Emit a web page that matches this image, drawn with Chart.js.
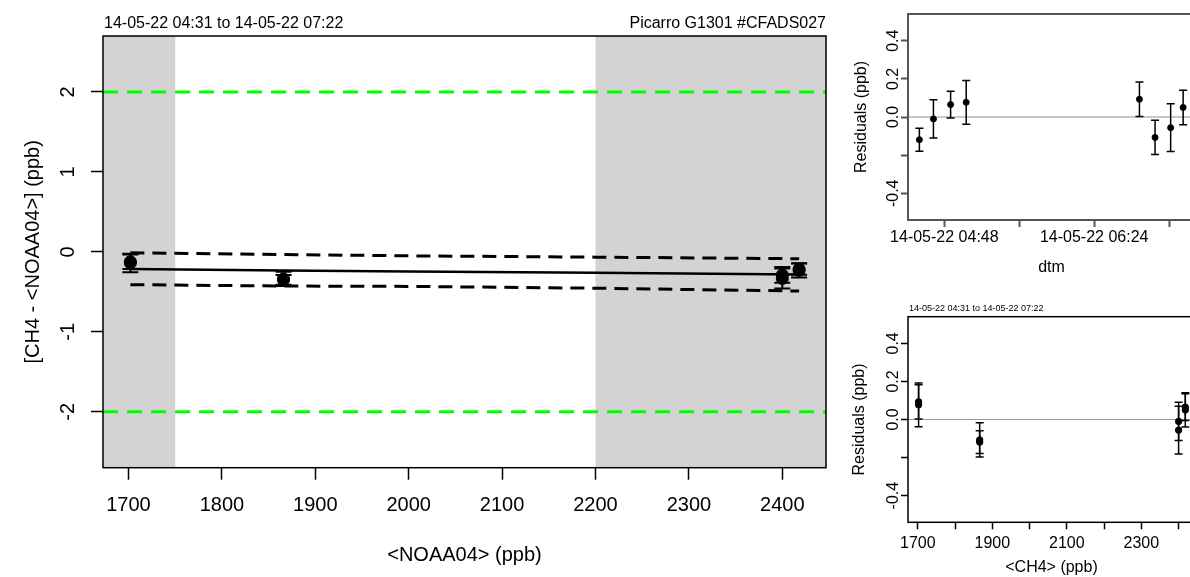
<!DOCTYPE html>
<html>
<head>
<meta charset="utf-8">
<title>CH4 calibration check</title>
<script src="https://cdn.jsdelivr.net/npm/chart.js@4.4.1/dist/chart.umd.min.js"></script>
<style>
  html, body { margin: 0; padding: 0; background: #fff; }
  body { position: relative; width: 1190px; height: 577px; overflow: hidden; }
  canvas { position: absolute; }
  #mainChart { left: 0; top: 0; }
  #timeChart { left: 840px; top: 0; }
  #ch4Chart { left: 840px; top: 290px; }
</style>
</head>
<body>
<canvas id="mainChart" width="840" height="577"></canvas>
<canvas id="timeChart" width="360" height="290"></canvas>
<canvas id="ch4Chart" width="360" height="287"></canvas>
<script>
// one entry per injection
const noaaValues = [1866, 2400, 2418, 1702, 1702, 1866, 2400, 2418];
const diffValues = [-0.350, -0.288, -0.215, -0.139, -0.123, -0.338, -0.334, -0.232];
const diffErrors = [0.06, 0.10, 0.07, 0.115, 0.09, 0.09, 0.125, 0.09];

// fitted line and its band
const fitNoaa = [1702, 1866, 2000, 2200, 2418];
const fitValues = [-0.215, -0.232, -0.245, -0.262, -0.282];
const bandUpper = [-0.012, -0.033, -0.050, -0.066, -0.086];
const bandLower = [-0.410, -0.428, -0.432, -0.455, -0.490];
const limitValues = [2, -2];
const shadedNoaa = [[1672.7, 1750], [2200, 2446.8]];

// residual panels
const injectionTimes = ['04:32', '04:41', '04:52', '05:02', '06:53', '07:03', '07:13', '07:21'];
const residuals = [-0.119, -0.010, 0.065, 0.077, 0.093, -0.107, -0.056, 0.050];
const residualErrors = [0.06, 0.10, 0.07, 0.115, 0.09, 0.09, 0.125, 0.09];
const ch4Values = [1866, 2400, 2418, 1702, 1702, 1866, 2400, 2418];

// ticks
const noaaTicks = [1700, 1800, 1900, 2000, 2100, 2200, 2300, 2400];
const diffTicks = [-2, -1, 0, 1, 2];
const residualTicks = [-0.4, -0.2, 0, 0.2, 0.4];
const residualTickLabels = ['-0.4', '', '0.0', '0.2', '0.4'];
const timeTicks = ['04:48', '05:36', '06:24', '07:12'];
const timeTickLabels = ['14-05-22 04:48', '', '14-05-22 06:24', ''];
const ch4Ticks = [1700, 1800, 1900, 2000, 2100, 2200, 2300, 2400];
const ch4TickLabels = ['1700', '', '1900', '', '2100', '', '2300', ''];

Chart.defaults.font.family = "'Liberation Sans', Arial, Helvetica, sans-serif";
Chart.defaults.color = '#000';
Chart.defaults.animation = false;

const toMinutes = t => { const [h, m] = t.split(':').map(Number); return h * 60 + m; };
const pairs = (xs, ys) => xs.map((x, i) => ({x: x, y: ys[i]}));

// vertical error bars with caps, taken from dataset.errors
const errorBars = {
    id: 'errorBars',
    afterDatasetsDraw(chart) {
        const {ctx, scales: {x, y}} = chart;
        chart.data.datasets.forEach(ds => {
            if (!ds.errors) return;
            ctx.save();
            ctx.strokeStyle = '#000';
            ctx.lineWidth = ds.errorWidth;
            const c = ds.capWidth / 2;
            ds.data.forEach((p, j) => {
                const px = x.getPixelForValue(p.x);
                const top = y.getPixelForValue(p.y + ds.errors[j]);
                const bot = y.getPixelForValue(p.y - ds.errors[j]);
                ctx.beginPath();
                ctx.moveTo(px, top); ctx.lineTo(px, bot);
                ctx.moveTo(px - c, top); ctx.lineTo(px + c, top);
                ctx.moveTo(px - c, bot); ctx.lineTo(px + c, bot);
                ctx.stroke();
            });
            ctx.restore();
        });
    }
};

const shading = {
    id: 'shading',
    beforeDatasetsDraw(chart, args, opts) {
        if (!opts.ranges) return;
        const {ctx, chartArea: a, scales: {x}} = chart;
        ctx.save();
        ctx.fillStyle = opts.color;
        opts.ranges.forEach(([from, to]) => {
            const x0 = x.getPixelForValue(from), x1 = x.getPixelForValue(to);
            ctx.fillRect(x0, a.top, x1 - x0, a.bottom - a.top);
        });
        ctx.restore();
    }
};

const frame = {
    id: 'frame',
    afterDraw(chart, args, opts) {
        const {ctx, chartArea: a} = chart;
        ctx.save();
        ctx.strokeStyle = opts.color;
        ctx.lineWidth = opts.width;
        ctx.strokeRect(a.left, a.top, a.right - a.left, a.bottom - a.top);
        ctx.restore();
    }
};

const headings = {
    id: 'headings',
    afterDraw(chart, args, opts) {
        if (!opts.font) return;
        const {ctx, chartArea: a} = chart;
        ctx.save();
        ctx.fillStyle = '#000';
        ctx.font = opts.font;
        ctx.textBaseline = 'middle';
        if (opts.left) { ctx.textAlign = 'left'; ctx.fillText(opts.left, a.left + 1, opts.y); }
        if (opts.right) { ctx.textAlign = 'right'; ctx.fillText(opts.right, a.right, opts.y); }
        ctx.restore();
    }
};

function axis(o) {
    const ticks = {autoSkip: false, maxRotation: 0, font: {size: o.size}, padding: o.pad,
        callback: (v, i) => o.labels ? o.labels[i] : String(v)};
    if (o.vertical) {
        ticks.minRotation = 90;
        ticks.maxRotation = 90;
        ticks.crossAlign = 'center';
    }
    return {
        type: 'linear', min: o.min, max: o.max,
        afterBuildTicks: s => { s.ticks = o.ticks.map(v => ({value: v})); },
        afterFit: s => { if (o.vertical) s.width = o.fit; else s.height = o.fit; },
        border: {display: false},
        grid: {drawOnChartArea: false, tickLength: o.tick, tickWidth: o.lw, tickColor: o.color},
        ticks: ticks,
        title: {display: true, text: o.title, font: {size: o.size}, padding: o.titlePad}
    };
}

// main panel
new Chart('mainChart', {
    type: 'scatter',
    data: {
        datasets: [
            {data: pairs(noaaValues, diffValues), errors: diffErrors, errorWidth: 2, capWidth: 16,
             pointRadius: 6, backgroundColor: '#000', borderColor: '#000', order: 0},
            {data: pairs(fitNoaa, fitValues), showLine: true, borderColor: '#000', borderWidth: 2.5,
             pointRadius: 0, order: 1},
            {data: pairs(fitNoaa, bandUpper), showLine: true, borderColor: '#000', borderWidth: 3,
             borderDash: [14, 8], pointRadius: 0, order: 2},
            {data: pairs(fitNoaa, bandLower), showLine: true, borderColor: '#000', borderWidth: 3,
             borderDash: [14, 8], pointRadius: 0, order: 2},
            ...limitValues.map(v => ({
                data: [{x: shadedNoaa[0][0], y: v}, {x: shadedNoaa[1][1], y: v}],
                showLine: true, borderColor: '#00ff00', borderWidth: 3, borderDash: [15, 9],
                pointRadius: 0, order: 3
            }))
        ]
    },
    options: {
        responsive: false,
        layout: {padding: {top: 36, right: 14, left: 0, bottom: 0}},
        plugins: {
            legend: {display: false},
            tooltip: {enabled: false},
            shading: {ranges: shadedNoaa, color: '#d3d3d3'},
            frame: {color: '#000', width: 1.5},
            headings: {font: "16px 'Liberation Sans', Arial", y: 24,
                       left: '14-05-22 04:31 to 14-05-22 07:22', right: 'Picarro G1301 #CFADS027'}
        },
        scales: {
            x: axis({min: 1672.7, max: 2446.8, ticks: noaaTicks, size: 20, pad: 14, tick: 12, lw: 1.5,
                     color: '#000', fit: 109.3, title: '<NOAA04> (ppb)', titlePad: {top: 0, bottom: 10}}),
            y: axis({vertical: true, min: -2.7, max: 2.7, ticks: diffTicks, size: 20, pad: 14, tick: 12, lw: 1.5,
                     color: '#000', fit: 103, title: '[CH4 - <NOAA04>] (ppb)', titlePad: {top: 21, bottom: 0}})
        }
    },
    plugins: [shading, errorBars, frame, headings]
});

// residuals against time
new Chart('timeChart', {
    type: 'scatter',
    data: {
        datasets: [
            {data: pairs(injectionTimes.map(toMinutes), residuals), errors: residualErrors, errorWidth: 1.5,
             capWidth: 8, pointRadius: 3, backgroundColor: '#000', borderColor: '#000', order: 0},
            {data: [{x: 264.7, y: 0}, {x: 448.6, y: 0}], showLine: true, borderColor: '#c8c8c8',
             borderWidth: 2, pointRadius: 0, order: 1}
        ]
    },
    options: {
        responsive: false,
        layout: {padding: {top: 14, right: 0, left: 0, bottom: 0}},
        plugins: {
            legend: {display: false},
            tooltip: {enabled: false},
            frame: {color: '#555', width: 2}
        },
        scales: {
            x: axis({min: 264.7, max: 448.6, ticks: timeTicks.map(toMinutes), labels: timeTickLabels, size: 16,
                     pad: 1.4, tick: 7, lw: 2, color: '#555', fit: 70, title: 'dtm', titlePad: {top: 0, bottom: 13}}),
            y: axis({vertical: true, min: -0.54, max: 0.54, ticks: residualTicks, labels: residualTickLabels,
                     size: 16, pad: -6.5, tick: 7, lw: 2, color: '#555', fit: 68, title: 'Residuals (ppb)',
                     titlePad: {top: 11.5, bottom: 0}})
        }
    },
    plugins: [errorBars, frame]
});

// residuals against CH4
new Chart('ch4Chart', {
    type: 'scatter',
    data: {
        datasets: [
            {data: pairs(ch4Values, residuals), errors: residualErrors, errorWidth: 1.5,
             capWidth: 8, pointRadius: 3.2, backgroundColor: '#000', borderColor: '#000', order: 0},
            {data: [{x: 1673.6, y: 0}, {x: 2444, y: 0}], showLine: true, borderColor: '#999',
             borderWidth: 1, pointRadius: 0, order: 1}
        ]
    },
    options: {
        responsive: false,
        layout: {padding: {top: 26.7, right: 0, left: 0, bottom: 0}},
        plugins: {
            legend: {display: false},
            tooltip: {enabled: false},
            frame: {color: '#000', width: 1.5},
            headings: {font: "9px 'Liberation Sans', Arial", y: 19, left: '14-05-22 04:31 to 14-05-22 07:22'}
        },
        scales: {
            x: axis({min: 1673.6, max: 2444, ticks: ch4Ticks, labels: ch4TickLabels, size: 16, pad: 4.4,
                     tick: 7, lw: 1.5, color: '#000', fit: 54.7, title: '<CH4> (ppb)', titlePad: {top: 0, bottom: 0}}),
            y: axis({vertical: true, min: -0.54, max: 0.54, ticks: residualTicks, labels: residualTickLabels,
                     size: 16, pad: -6.5, tick: 7, lw: 1.5, color: '#000', fit: 68, title: 'Residuals (ppb)',
                     titlePad: {top: 9.5, bottom: 0}})
        }
    },
    plugins: [errorBars, frame, headings]
});
</script>
</body>
</html>
